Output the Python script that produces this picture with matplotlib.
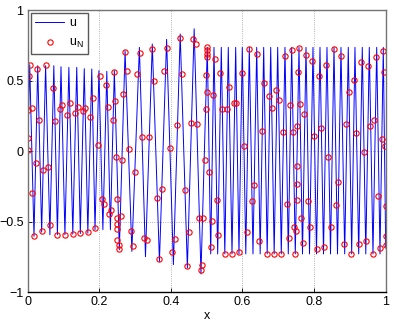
import matplotlib
matplotlib.use('Agg')
import matplotlib.pyplot as plt

plt.rcParams['font.family'] = ['Liberation Sans', 'DejaVu Sans']
plt.rcParams['mathtext.fontset'] = 'custom'
plt.rcParams['mathtext.rm'] = 'Liberation Sans'
plt.rcParams['axes.unicode_minus'] = True

u_x = [0.0, 0.0056, 0.0176, 0.028, 0.039, 0.050, 0.062, 0.073, 0.083, 0.093,
       0.104, 0.115, 0.126, 0.137, 0.147, 0.158, 0.168, 0.179, 0.188, 0.199,
       0.210, 0.221, 0.231, 0.242, 0.256, 0.272, 0.291, 0.312, 0.329, 0.348,
       0.368, 0.388, 0.407, 0.426, 0.446, 0.465, 0.484, 0.5017, 0.5112, 0.5204,
       0.5307, 0.5408, 0.5506, 0.5603, 0.5707, 0.5810, 0.5902, 0.5994, 0.6092, 0.6190,
       0.6293, 0.6397, 0.6494, 0.6592, 0.6690, 0.6788, 0.6885, 0.6983, 0.7084, 0.7187,
       0.7279, 0.7374, 0.7475, 0.7578, 0.7676, 0.7774, 0.7872, 0.7969, 0.8067, 0.8165,
       0.8263, 0.8360, 0.8458, 0.8556, 0.8654, 0.8751, 0.8855, 0.8955, 0.9050, 0.9142,
       0.9246, 0.9346, 0.9444, 0.9542, 0.9645, 0.9749, 0.9841, 0.9933, 1.0]
u_y = [0.0, 0.612, -0.605, 0.605, -0.575, 0.605, -0.594, 0.605, -0.594, 0.598,
       -0.594, 0.593, -0.59, 0.593, -0.585, 0.584, -0.583, 0.582, -0.558, 0.57,
       -0.558, 0.565, -0.558, 0.57, -0.70, 0.711, -0.712, 0.735, -0.75, 0.759,
       -0.783, 0.792, -0.806, 0.83, -0.83, 0.867, -0.872, 0.735, -0.73, 0.735,
       -0.73, 0.735, -0.73, 0.735, -0.73, 0.735, -0.73, 0.735, -0.73, 0.735,
       -0.73, 0.735, -0.73, 0.735, -0.73, 0.735, -0.73, 0.735, -0.73, 0.735,
       -0.73, 0.735, -0.73, 0.735, -0.73, 0.735, -0.73, 0.735, -0.73, 0.735,
       -0.73, 0.735, -0.73, 0.735, -0.73, 0.735, -0.73, 0.735, -0.73, 0.735,
       -0.73, 0.735, -0.73, 0.735, -0.73, 0.735, -0.73, 0.735, -0.68]

# numerical solution u_N at the nodes
uN_x = [0.002, 0.002, 0.002, 0.0036, 0.0064, 0.011, 0.0129, 0.0185, 0.0223, 0.0269,
        0.0316, 0.039, 0.0437, 0.0502, 0.0558, 0.0623, 0.0697, 0.0763, 0.0828, 0.0893,
        0.0967, 0.104, 0.1107, 0.118, 0.1256, 0.132, 0.1396, 0.147, 0.1535, 0.161,
        0.1675, 0.175, 0.1815, 0.188, 0.1955, 0.202, 0.2066, 0.213, 0.2178, 0.2234,
        0.228, 0.2327, 0.2383, 0.242, 0.2439, 0.2466, 0.2494, 0.2504, 0.2504, 0.2504,
        0.2504, 0.254, 0.256, 0.2606, 0.2634, 0.267, 0.2718, 0.2765, 0.282, 0.2876,
        0.2932, 0.2997, 0.3062, 0.3137, 0.3202, 0.3258, 0.3323, 0.3397, 0.3463, 0.3537,
        0.3612, 0.3677, 0.3743, 0.3817, 0.3882, 0.3975, 0.4031, 0.4105, 0.418, 0.4254,
        0.4319, 0.4385, 0.444, 0.4506, 0.4562, 0.4617, 0.4692, 0.4738, 0.4785, 0.4832,
        0.4869, 0.4906, 0.4943, 0.4985, 0.4985, 0.5, 0.501, 0.501, 0.501, 0.501,
        0.5064, 0.5111, 0.5139, 0.5167, 0.5232, 0.5278, 0.5325, 0.538, 0.5437, 0.5502,
        0.5567, 0.5632, 0.5698, 0.5753, 0.5828, 0.5902, 0.5977, 0.6042, 0.6117, 0.6191,
        0.6265, 0.633, 0.6405, 0.647, 0.6545, 0.661, 0.6675, 0.675, 0.6815, 0.688,
        0.6945, 0.701, 0.7076, 0.7131, 0.7187, 0.7243, 0.7299, 0.7327, 0.7373, 0.742,
        0.7448, 0.7466, 0.7494, 0.7513, 0.7513, 0.7513, 0.7532, 0.7541, 0.757, 0.7606,
        0.7634, 0.7681, 0.7727, 0.7765, 0.782, 0.7876, 0.7932, 0.7997, 0.8072, 0.8128,
        0.8193, 0.8267, 0.8332, 0.8398, 0.8472, 0.8547, 0.8612, 0.8677, 0.8751, 0.8826,
        0.8891, 0.8966, 0.904, 0.9115, 0.918, 0.9254, 0.931, 0.9385, 0.945, 0.9515,
        0.957, 0.9636, 0.9683, 0.9738, 0.9794, 0.9841, 0.9888, 0.9915, 0.9953, 0.998,
        1.0, 1.0, 1.0]
uN_y = [0.005, 0.092, 0.293, 0.53, 0.608, 0.305, -0.298, -0.60, -0.085, 0.584,
        0.222, -0.565, -0.132, 0.608, -0.113, -0.527, 0.447, 0.21, -0.593, 0.298,
        0.326, -0.593, 0.253, 0.338, -0.589, 0.27, 0.312, -0.582, 0.286, 0.305,
        -0.574, 0.239, 0.376, -0.546, 0.045, 0.53, -0.34, -0.373, 0.466, 0.312,
        -0.447, -0.421, 0.222, 0.563, 0.357, -0.043, -0.338, -0.475, -0.515, -0.553,
        -0.629, -0.695, -0.664, -0.459, -0.061, 0.407, 0.702, 0.565, 0.014, -0.57,
        -0.676, -0.147, 0.548, 0.695, 0.097, -0.617, -0.629, 0.099, 0.726, 0.499,
        -0.336, -0.766, -0.267, 0.57, 0.73, 0.021, -0.719, -0.624, 0.187, 0.801,
        0.548, -0.274, -0.818, -0.572, 0.199, 0.794, 0.761, 0.191, -0.475, -0.846,
        -0.811, -0.478, -0.061, 0.298, 0.537, 0.416, 0.67, 0.688, 0.718, 0.735,
        -0.149, -0.681, -0.499, 0.40, 0.655, -0.345, -0.593, 0.553, 0.298, -0.73,
        0.298, 0.452, -0.728, 0.338, 0.338, -0.719, 0.553, 0.033, -0.574, 0.723,
        -0.357, -0.241, 0.688, -0.641, 0.139, 0.482, -0.728, 0.39, 0.305, -0.728,
        0.43, 0.359, -0.728, 0.137, 0.676, -0.374, -0.617, 0.329, 0.719, 0.132,
        -0.539, -0.728, -0.565, -0.345, -0.232, -0.109, 0.175, 0.558, 0.733, 0.333,
        -0.475, -0.652, 0.262, 0.683, -0.357, -0.539, 0.641, 0.109, -0.695, 0.53,
        0.163, -0.681, 0.612, -0.043, -0.541, 0.726, -0.381, -0.22, 0.676, -0.66,
        0.191, 0.421, -0.728, 0.504, 0.128, -0.66, 0.634, -0.005, -0.636, 0.60,
        0.175, -0.728, 0.22, 0.669, -0.322, -0.688, 0.083, 0.707, 0.558, 0.033,
        -0.392, -0.60, -0.664]

x_ticks = [0, 0.2, 0.4, 0.6, 0.8, 1]
x_labels = ['0', '0.2', '0.4', '0.6', '0.8', '1']
y_ticks = [-1, -0.5, 0, 0.5, 1]
y_labels = ['\u22121', '\u22120.5', '0', '0.5', '1']

fig = plt.figure(figsize=(3.94, 3.25), dpi=100)
ax = fig.add_axes([0.0703, 0.1015, 0.9086, 0.8677])

ax.plot(u_x, u_y, color='b', lw=0.7, label='u')
ax.plot(uN_x, uN_y, 'o', mfc='none', mec='r', ms=3.8, mew=0.8, label=r'u$_{\rm N}$')

ax.set_xlim(0, 1)
ax.set_ylim(-1, 1)
ax.set_xticks(x_ticks)
ax.set_xticklabels(x_labels)
ax.set_yticks(y_ticks)
ax.set_yticklabels(y_labels)
ax.tick_params(direction='in', length=3, width=0.6, labelsize=9, pad=3)
ax.grid(True, linestyle=':', color='0.6', lw=0.6)
ax.set_xlabel('x', fontsize=9, labelpad=1)

for s in ['top', 'right', 'left']:
    ax.spines[s].set_color('0.45')
ax.spines['bottom'].set_color('black')
for s in ax.spines.values():
    s.set_linewidth(1.0)

leg = ax.legend(loc='upper left', bbox_to_anchor=(0.009, 0.989), borderaxespad=0,
                fontsize=9, handlelength=2.3, handletextpad=0.4, borderpad=0.35,
                labelspacing=0.6, fancybox=False, framealpha=1)
leg.get_frame().set_edgecolor('0.35')
leg.get_frame().set_linewidth(1.0)

fig.savefig('out.png', dpi=100)
